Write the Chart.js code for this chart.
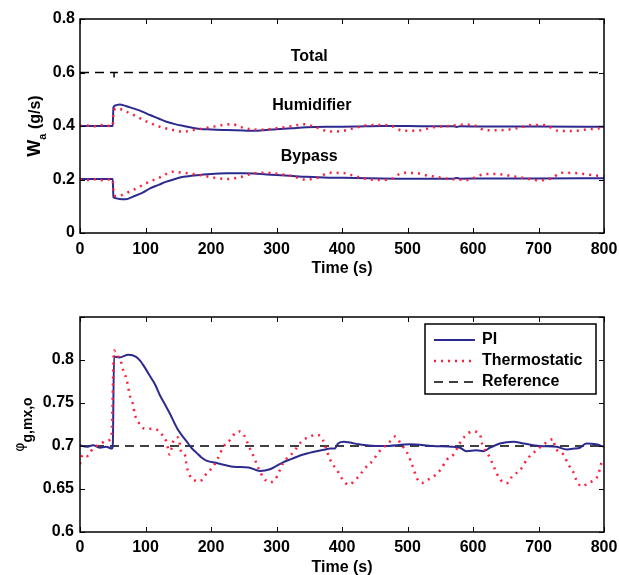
<!DOCTYPE html>
<html>
<head>
<meta charset="utf-8">
<script src="https://cdn.jsdelivr.net/npm/chart.js@4"></script>
<style>
  body { margin: 0; background: #fff; overflow: hidden; width: 619px; height: 575px; position: relative; }
  canvas { position: absolute; left: 0; }
  #topChart { top: 0; }
  #botChart { top: 285px; }
</style>
</head>
<body>
<canvas id="topChart" width="619" height="285"></canvas>
<canvas id="botChart" width="619" height="295"></canvas>
<script>
// ---- top panel: air flow split (g/s) ----
const totalT = [0, 52, 52, 52, 800];
const totalW = [0.6, 0.6, 0.57, 0.6, 0.6];

const piT = [0, 50, 51, 55, 60, 70, 81, 95, 107, 120, 132, 145, 158, 170, 183, 200, 224, 250, 265, 285, 300, 325, 346, 380, 420, 460, 500, 540, 570, 575, 580, 620, 700, 800];
const humPiW = [0.4, 0.4, 0.47, 0.478, 0.48, 0.475, 0.466, 0.454, 0.441, 0.428, 0.416, 0.407, 0.4, 0.394, 0.389, 0.387, 0.385, 0.383, 0.382, 0.385, 0.388, 0.392, 0.395, 0.397, 0.398, 0.4, 0.4, 0.399, 0.399, 0.396, 0.399, 0.398, 0.398, 0.397];
const bypPiW = [0.202, 0.202, 0.135, 0.13, 0.127, 0.126, 0.136, 0.15, 0.167, 0.18, 0.192, 0.202, 0.21, 0.214, 0.217, 0.221, 0.223, 0.223, 0.222, 0.219, 0.217, 0.213, 0.21, 0.207, 0.206, 0.204, 0.203, 0.203, 0.203, 0.206, 0.203, 0.204, 0.204, 0.205];

const humThT = [0, 10, 20, 30, 40, 50, 51, 56, 71, 87, 102, 122, 142, 158, 173, 198, 219, 232, 244, 260, 275, 300, 326, 341, 360, 382, 402, 423, 443, 463, 478, 493, 513, 530, 544, 560, 578, 598, 618, 639, 659, 675, 690, 710, 730, 751, 770, 791, 800];
const humThW = [0.4, 0.402, 0.398, 0.404, 0.401, 0.4, 0.45, 0.466, 0.453, 0.435, 0.416, 0.397, 0.385, 0.379, 0.385, 0.395, 0.404, 0.407, 0.397, 0.388, 0.386, 0.392, 0.4, 0.407, 0.395, 0.379, 0.382, 0.395, 0.404, 0.404, 0.398, 0.382, 0.382, 0.39, 0.397, 0.399, 0.404, 0.405, 0.385, 0.384, 0.388, 0.396, 0.404, 0.403, 0.382, 0.381, 0.386, 0.391, 0.393];

const bypThT = [0, 10, 20, 30, 40, 50, 51, 56, 71, 87, 102, 122, 142, 158, 183, 204, 224, 244, 265, 285, 305, 326, 341, 360, 382, 402, 423, 453, 473, 493, 513, 530, 544, 560, 578, 588, 618, 634, 659, 679, 700, 720, 735, 756, 781, 800];
const bypThW = [0.2, 0.198, 0.202, 0.197, 0.2, 0.2, 0.15, 0.137, 0.15, 0.168, 0.187, 0.208, 0.229, 0.225, 0.217, 0.207, 0.202, 0.208, 0.223, 0.225, 0.22, 0.212, 0.2, 0.205, 0.225, 0.224, 0.21, 0.198, 0.2, 0.225, 0.224, 0.215, 0.21, 0.203, 0.2, 0.197, 0.22, 0.221, 0.213, 0.205, 0.197, 0.205, 0.225, 0.224, 0.217, 0.212];

// ---- bottom panel: outlet relative humidity ----
const phiPiT = [0, 10, 20, 30, 40, 49, 50, 52, 60, 74, 85, 92, 100, 107, 115, 122, 130, 137, 148, 155, 163, 170, 178, 185, 193, 210, 234, 257, 275, 290, 300, 310, 323, 336, 350, 361, 375, 382, 389, 394, 403, 412, 425, 437, 463, 504, 539, 570, 580, 590, 605, 616, 626, 641, 662, 677, 702, 728, 743, 755, 763, 773, 788, 800];
const phiPi = [0.701, 0.699, 0.701, 0.698, 0.699, 0.697, 0.7, 0.804, 0.803, 0.806, 0.804, 0.799, 0.79, 0.781, 0.771, 0.759, 0.748, 0.738, 0.721, 0.713, 0.705, 0.698, 0.692, 0.687, 0.683, 0.68, 0.676, 0.675, 0.671, 0.673, 0.677, 0.681, 0.685, 0.689, 0.692, 0.694, 0.696, 0.697, 0.697, 0.703, 0.705, 0.704, 0.702, 0.701, 0.7, 0.702, 0.7, 0.699, 0.698, 0.694, 0.695, 0.694, 0.698, 0.703, 0.705, 0.703, 0.7, 0.699, 0.696, 0.697, 0.698, 0.703, 0.702, 0.699];

const phiThT = [0, 4, 10, 20, 30, 41, 48, 52, 56, 61, 66, 71, 76, 81, 84, 89, 96, 102, 110, 117, 122, 127, 132, 137, 142, 150, 155, 160, 163, 170, 183, 191, 203, 210, 219, 229, 237, 244, 250, 255, 260, 265, 272, 280, 290, 298, 310, 326, 338, 351, 361, 369, 372, 382, 394, 402, 410, 417, 427, 435, 448, 455, 463, 473, 481, 491, 499, 509, 514, 522, 529, 539, 550, 560, 570, 583, 593, 600, 611, 613, 626, 634, 639, 646, 654, 659, 672, 684, 697, 712, 723, 725, 738, 746, 753, 758, 766, 776, 784, 791, 796, 800];
const phiTh = [0.679, 0.69, 0.688, 0.697, 0.702, 0.706, 0.711, 0.811, 0.805, 0.802, 0.788, 0.778, 0.759, 0.748, 0.736, 0.728, 0.721, 0.72, 0.72, 0.719, 0.717, 0.711, 0.705, 0.69, 0.705, 0.71, 0.692, 0.69, 0.676, 0.663, 0.659, 0.666, 0.676, 0.685, 0.699, 0.707, 0.715, 0.717, 0.713, 0.705, 0.696, 0.688, 0.675, 0.663, 0.658, 0.661, 0.68, 0.693, 0.705, 0.711, 0.713, 0.71, 0.705, 0.684, 0.67, 0.66, 0.655, 0.658, 0.666, 0.674, 0.684, 0.692, 0.698, 0.705, 0.711, 0.701, 0.693, 0.674, 0.663, 0.657, 0.66, 0.664, 0.672, 0.684, 0.69, 0.707, 0.715, 0.717, 0.713, 0.705, 0.686, 0.672, 0.664, 0.658, 0.657, 0.664, 0.672, 0.686, 0.695, 0.704, 0.708, 0.7, 0.69, 0.678, 0.67, 0.66, 0.653, 0.657, 0.66, 0.666, 0.68, 0.685];

const refT = [0, 800];
const refPhi = [0.7, 0.7];

const seriesNames = ['PI', 'Thermostatic', 'Reference'];
const flowNotes = ['Total', 'Humidifier', 'Bypass'];

const BLUE = '#2c2a8e';
const RED = '#ff1f3d';
const FONT = "'Liberation Sans', Arial, sans-serif";

Chart.defaults.font.family = FONT;
Chart.defaults.font.size = 16;
Chart.defaults.font.weight = 'bold';
Chart.defaults.color = '#000';

const pts = (t, v) => t.map((x, i) => ({ x, y: v[i] }));

const solid = (data, order) => ({ data, borderColor: BLUE, borderWidth: 2, pointRadius: 0, cubicInterpolationMode: 'monotone', order });
const dotted = (data, order) => ({ data, borderColor: RED, borderWidth: 2.5, borderDash: [2, 5], pointRadius: 0, cubicInterpolationMode: 'monotone', order });
const dashed = (data, order) => ({ data, borderColor: '#000', borderWidth: 1.5, borderDash: [9, 6], pointRadius: 0, order });

// box round the plot with inward ticks on all four sides
const frame = {
  id: 'frame',
  afterDraw(chart) {
    const { ctx, chartArea: a, scales: { x, y } } = chart;
    ctx.save();
    ctx.strokeStyle = '#000';
    ctx.lineWidth = 1;
    ctx.beginPath();
    x.ticks.forEach(t => {
      const px = Math.round(x.getPixelForValue(t.value)) + 0.5;
      ctx.moveTo(px, a.bottom); ctx.lineTo(px, a.bottom - 5);
      ctx.moveTo(px, a.top); ctx.lineTo(px, a.top + 5);
    });
    y.ticks.forEach(t => {
      const py = Math.round(y.getPixelForValue(t.value)) + 0.5;
      ctx.moveTo(a.left, py); ctx.lineTo(a.left + 5, py);
      ctx.moveTo(a.right, py); ctx.lineTo(a.right - 5, py);
    });
    ctx.stroke();
    ctx.lineWidth = 1.5;
    ctx.strokeRect(a.left, a.top, a.width, a.height);
    ctx.restore();
  }
};

// rotated y title with a subscript
function yTitle(parts, baseX) {
  return {
    id: 'ytitle',
    afterDraw(chart) {
      const { ctx, chartArea: a } = chart;
      ctx.save();
      ctx.fillStyle = '#000';
      ctx.textBaseline = 'alphabetic';
      let w = 0;
      parts.forEach(p => { ctx.font = p.font; p.w = ctx.measureText(p.text).width; w += p.w; });
      ctx.translate(baseX, (a.top + a.bottom) / 2);
      ctx.rotate(-Math.PI / 2);
      let cx = -w / 2;
      parts.forEach(p => { ctx.font = p.font; ctx.fillText(p.text, cx, p.dy); cx += p.w; });
      ctx.restore();
    }
  };
}

// curve names written inside the top panel
const notes = {
  id: 'notes',
  afterDraw(chart) {
    const { ctx, scales: { x, y } } = chart;
    const at = [[350, 0.658], [354, 0.478], [350, 0.284]];
    ctx.save();
    ctx.font = 'bold 16px ' + FONT;
    ctx.fillStyle = '#000';
    ctx.textAlign = 'center';
    ctx.textBaseline = 'middle';
    flowNotes.forEach((n, i) => ctx.fillText(n, x.getPixelForValue(at[i][0]), y.getPixelForValue(at[i][1])));
    ctx.restore();
  }
};

// legend box in the upper right of the bottom panel
const legendBox = {
  id: 'legendBox',
  afterDraw(chart) {
    const { ctx, chartArea: a } = chart;
    const ds = chart.data.datasets;
    const right = a.right - 8, top = a.top + 7, w = 171, h = 70;
    const left = right - w;
    ctx.save();
    ctx.fillStyle = '#fff';
    ctx.fillRect(left, top, w, h);
    ctx.strokeStyle = '#000';
    ctx.lineWidth = 1.5;
    ctx.strokeRect(left, top, w, h);
    ctx.font = 'bold 16px ' + FONT;
    ctx.textBaseline = 'middle';
    seriesNames.forEach((name, i) => {
      const d = ds[i];
      const yy = top + 16 + i * 21;
      ctx.strokeStyle = d.borderColor;
      ctx.lineWidth = d.borderWidth;
      ctx.setLineDash(d.borderDash || []);
      ctx.beginPath();
      ctx.moveTo(left + 9, yy);
      ctx.lineTo(left + 50, yy);
      ctx.stroke();
      ctx.setLineDash([]);
      ctx.fillStyle = '#000';
      ctx.fillText(name, left + 57, yy);
    });
    ctx.restore();
  }
};

const xAxis = (height, labelPad, titlePad) => ({
  type: 'linear', min: 0, max: 800,
  ticks: { stepSize: 100, padding: labelPad, maxRotation: 0 },
  grid: { display: false, drawTicks: false },
  border: { display: false },
  title: { display: true, text: 'Time (s)', padding: { top: 0, bottom: titlePad } },
  afterFit: s => { s.height = height; s.paddingLeft = 0; s.paddingRight = 0; }
});

new Chart(document.getElementById('topChart'), {
  type: 'line',
  data: {
    datasets: [
      solid(pts(piT, humPiW), 1),
      solid(pts(piT, bypPiW), 1),
      dotted(pts(humThT, humThW), 0),
      dotted(pts(bypThT, bypThW), 0),
      dashed(pts(totalT, totalW), 2)
    ]
  },
  options: {
    responsive: false,
    animation: false,
    layout: { padding: { top: 19, right: 15, left: 0, bottom: 0 } },
    plugins: { legend: { display: false }, tooltip: { enabled: false } },
    scales: {
      x: xAxis(52, 7, 7),
      y: {
        min: 0, max: 0.8,
        ticks: { stepSize: 0.2, padding: 5, callback: v => +v.toFixed(1) },
        grid: { display: false, drawTicks: false },
        border: { display: false },
        afterFit: s => { s.width = 80; }
      }
    }
  },
  plugins: [frame, notes, yTitle([
    { text: 'W', font: 'bold 18px ' + FONT, dy: 0 },
    { text: 'a', font: 'bold 11px ' + FONT, dy: 6 },
    { text: ' (g/s)', font: 'bold 16px ' + FONT, dy: 0 }
  ], 40)]
});

new Chart(document.getElementById('botChart'), {
  type: 'line',
  data: {
    datasets: [
      solid(pts(phiPiT, phiPi), 1),
      dotted(pts(phiThT, phiTh), 0),
      dashed(pts(refT, refPhi), 2)
    ]
  },
  options: {
    responsive: false,
    animation: false,
    layout: { padding: { top: 32, right: 15, left: 0, bottom: 0 } },
    plugins: { legend: { display: false }, tooltip: { enabled: false } },
    scales: {
      x: xAxis(48, 6, 3),
      y: {
        min: 0.6, max: 0.85,
        ticks: { stepSize: 0.05, padding: 6, callback: v => (v > 0.84 ? '' : +v.toFixed(2)) },
        grid: { display: false, drawTicks: false },
        border: { display: false },
        afterFit: s => { s.width = 80; }
      }
    }
  },
  plugins: [frame, legendBox, yTitle([
    { text: 'φ', font: "14px 'DejaVu Sans', sans-serif", dy: 0 },
    { text: 'g,mx,o', font: 'bold 14px ' + FONT, dy: 8 }
  ], 24)]
});
</script>
</body>
</html>
